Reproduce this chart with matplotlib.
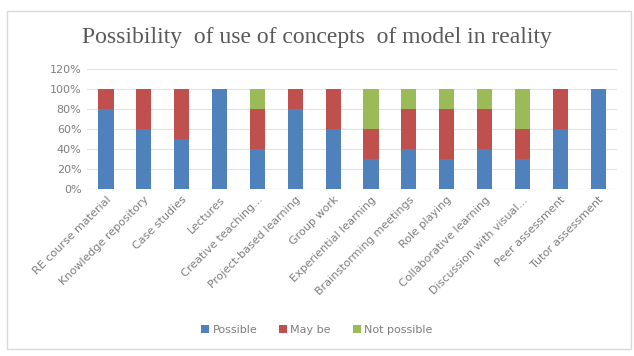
import numpy as np
import matplotlib.pyplot as plt
from matplotlib.patches import Rectangle

categories = ["RE course material", "Knowledge repository", "Case studies", "Lectures",
              "Creative teaching...", "Project-based learning", "Group work",
              "Experiential learning", "Brainstorming meetings", "Role playing",
              "Collaborative learning", "Discussion with visual...", "Peer assessment",
              "Tutor assessment"]
possible = [80, 60, 50, 100, 40, 80, 60, 30, 40, 30, 40, 30, 60, 100]
may_be = [20, 40, 50, 0, 40, 20, 40, 30, 40, 50, 40, 30, 40, 0]
not_possible = [0, 0, 0, 0, 20, 0, 0, 40, 20, 20, 20, 40, 0, 0]
yticks = [0, 20, 40, 60, 80, 100, 120]

blue, red, green = "#4F81BD", "#C0504D", "#9BBB59"
grey = "#7f7f7f"

fig = plt.figure(figsize=(6.34, 3.56), dpi=100)
# outer chart frame
fig.patches.append(Rectangle((7/634, 0.02), 0.985, 0.95, transform=fig.transFigure,
                             fill=False, edgecolor="#d9d9d9", lw=1))

ax = fig.add_axes([87/634, 1 - 189/356, 530/634, 120/356])
x = np.arange(len(categories))
p = np.array(possible)
m = np.array(may_be)
n = np.array(not_possible)
w = 0.4
ax.bar(x, p, w, color=blue, label="Possible", zorder=3)
ax.bar(x, m, w, bottom=p, color=red, label="May be", zorder=3)
ax.bar(x, n, w, bottom=p + m, color=green, label="Not possible", zorder=3)

ax.set_xlim(-0.5, len(categories) - 0.5)
ax.set_ylim(0, 120)
ax.set_yticks(yticks)
ax.set_yticklabels([f"{v}%" for v in yticks], color=grey, fontsize=8)
ax.yaxis.grid(True, color="#e3e3e3", lw=0.8, zorder=0)
ax.set_xticks(x)
ax.set_xticklabels(categories, rotation=45, ha="right", rotation_mode="anchor",
                   color=grey, fontsize=8)
ax.tick_params(length=0, pad=4)
for s in ax.spines.values():
    s.set_visible(False)
ax.axhline(0, color="#d9d9d9", lw=0.8, zorder=2)

fig.text(0.5, 1 - 38/356, "Possibility  of use of concepts  of model in reality",
         ha="center", va="center", family="Liberation Serif", fontsize=17, color="#595959")

fig.legend(loc="center", bbox_to_anchor=(0.5, 1 - 330/356), ncol=3, frameon=False,
           fontsize=8, labelcolor=grey, handlelength=0.7, handleheight=0.7,
           handletextpad=0.3, columnspacing=2.0)

fig.savefig("out.png", dpi=100)
